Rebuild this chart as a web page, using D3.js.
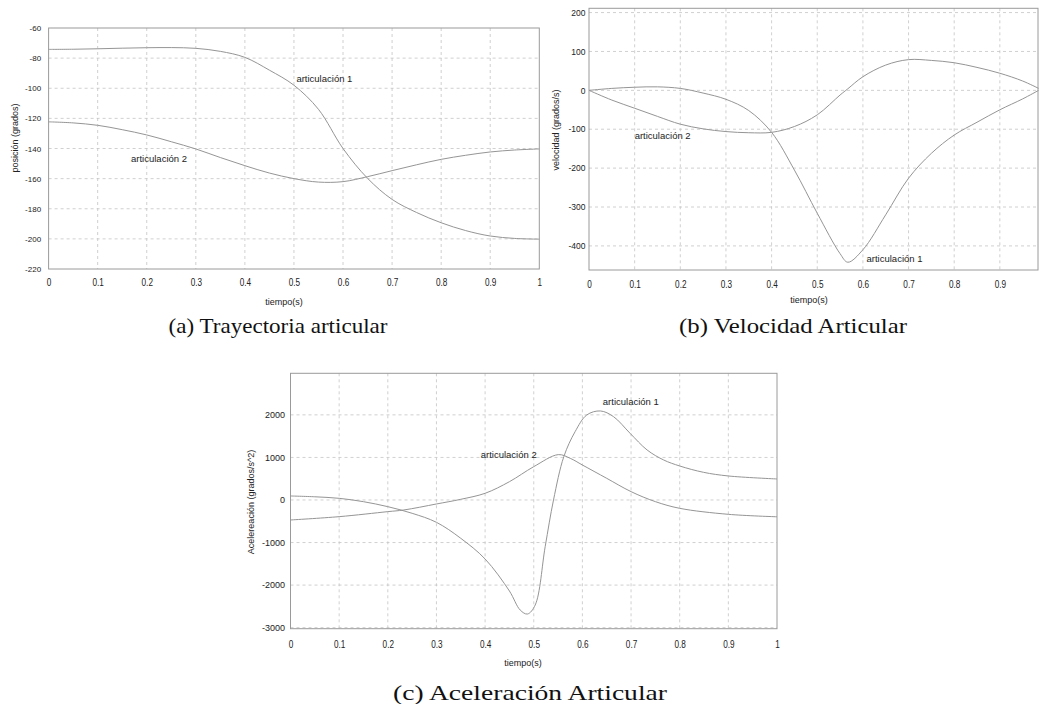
<!DOCTYPE html>
<html><head><meta charset="utf-8">
<script src="https://cdn.jsdelivr.net/npm/d3@7"></script>
<style>
html,body{margin:0;padding:0;background:#fff;}
svg{display:block;}
</style></head>
<body>
<svg id="chart" width="1039" height="704"></svg>
<script>
// ---------- DATA ----------
const timeA = [0,0.05,0.1,0.15,0.2,0.25,0.3,0.35,0.4,0.45,0.5,0.55,0.6,0.65,0.7,0.75,0.8,0.85,0.9,0.95,1.0];
const posJoint1 = [-74.2,-74.1,-73.8,-73.4,-73.1,-73.0,-73.5,-75.5,-79.5,-88,-98,-114,-140,-159.8,-173.8,-182.5,-189.3,-194.5,-198.1,-199.7,-200.2];
const posJoint2 = [-122.3,-123,-124.6,-127.5,-131,-135.5,-140.3,-146,-151.4,-156.3,-160,-162.3,-162,-158.7,-154.7,-150.8,-147.2,-144.5,-142.3,-141,-140.3];

const timeB = [0,0.05,0.1,0.15,0.2,0.25,0.3,0.35,0.4,0.45,0.5,0.55,0.567,0.6,0.65,0.7,0.75,0.8,0.85,0.9,0.95,0.985];
const velJoint1 = [0,5,8,9,5,-7,-23,-52,-108,-205,-316,-420,-442,-410,-320,-226,-162,-115,-82,-50,-22,0];
const velJoint2 = [0,-25,-46,-67,-87,-99,-106,-109,-108,-93,-63,-12,4,35,65,79,77,71,59,44,24,5];

const timeC1 = [0,0.05,0.1,0.15,0.2,0.25,0.3,0.35,0.4,0.45,0.472,0.487,0.503,0.5235,0.5406,0.5618,0.585,0.609,0.637,0.664,0.698,0.733,0.767,0.8,0.849,0.9,1.0];
const accJoint1 = [94,75,39,-40,-157,-313,-525,-901,-1387,-2139,-2585,-2680,-2468,-1097,0,1018,1605,1998,2092,1958,1567,1175,940,799,650,564,494];
const timeC2 = [0,0.1,0.2,0.233,0.3,0.35,0.4,0.45,0.5,0.5505,0.575,0.6,0.65,0.7,0.75,0.8,0.9,1.0];
const accJoint2 = [-470,-392,-274,-235,-94,16,157,430,783,1066,979,822,509,196,-39,-196,-337,-395];

const xTicksFull = [0,0.1,0.2,0.3,0.4,0.5,0.6,0.7,0.8,0.9,1];
const xTicksB = [0,0.1,0.2,0.3,0.4,0.5,0.6,0.7,0.8,0.9];
const yTicksA = [-220,-200,-180,-160,-140,-120,-100,-80,-60];
const yTicksB = [-400,-300,-200,-100,0,100,200];
const yTicksC = [-3000,-2000,-1000,0,1000,2000];

const seriesLabels = ["articulación 1","articulación 2"];
const xTitle = "tiempo(s)";
const yTitles = ["posición (grados)","velocidad (grados/s)","Acelereación (grados/s^2)"];
const captions = ["(a) Trayectoria articular","(b) Velocidad Articular","(c) Aceleración Articular"];

// ---------- DRAW ----------
const svg = d3.select("#chart");
const fmt = d => (d === 0 ? "0" : d === 1 ? "1" : String(d));

function panel(cfg){
  const g = svg.append("g");
  const x = d3.scaleLinear().domain(cfg.xDomain).range([cfg.left, cfg.right]);
  const y = d3.scaleLinear().domain(cfg.yDomain).range([cfg.bottom, cfg.top]);

  // grid
  g.append("g").selectAll("line").data(cfg.xTicks.filter(d => d > cfg.xDomain[0] && d < cfg.xDomain[1]))
    .join("line").attr("x1", d => x(d)).attr("x2", d => x(d))
    .attr("y1", cfg.top).attr("y2", cfg.bottom)
    .attr("stroke", "#c4c4c4").attr("stroke-width", 0.8).attr("stroke-dasharray", "3,3");
  g.append("g").selectAll("line").data(cfg.yTicks.filter(d => d > cfg.yDomain[0] && d < cfg.yDomain[1]))
    .join("line").attr("y1", d => y(d)).attr("y2", d => y(d))
    .attr("x1", cfg.left).attr("x2", cfg.right)
    .attr("stroke", "#c4c4c4").attr("stroke-width", 0.8).attr("stroke-dasharray", "3,3");

  // frame
  g.append("rect").attr("x", cfg.left).attr("y", cfg.top)
    .attr("width", cfg.right - cfg.left).attr("height", cfg.bottom - cfg.top)
    .attr("fill", "none").attr("stroke", "#9a9a9a").attr("stroke-width", 1);

  // axes (labels only)
  const ax = g.append("g").attr("transform", `translate(0,${cfg.bottom})`)
    .call(d3.axisBottom(x).tickValues(cfg.xTicks).tickFormat(fmt).tickSize(0).tickPadding(cfg.xPad));
  ax.select(".domain").remove();
  ax.selectAll("text").attr("font-family", "'Liberation Sans',Arial,sans-serif")
    .attr("font-size", cfg.xFont).attr("fill", "#222").attr("transform", "scale(0.78,1)");
  const ay = g.append("g").attr("transform", `translate(${cfg.left},0)`)
    .call(d3.axisLeft(y).tickValues(cfg.yTicks).tickFormat(d => String(d)).tickSize(0).tickPadding(cfg.yPad));
  ay.select(".domain").remove();
  ay.selectAll("text").attr("font-family", "'Liberation Sans',Arial,sans-serif")
    .attr("font-size", cfg.yFont).attr("fill", "#222");

  // curves
  const line = d3.line().x(d => x(d[0])).y(d => y(d[1])).curve(d3.curveCatmullRom.alpha(0.5));
  cfg.series.forEach(s => {
    g.append("path").datum(d3.zip(s.t, s.v)).attr("d", line)
      .attr("fill", "none").attr("stroke", "#959595").attr("stroke-width", 1);
  });
  cfg.labels.forEach(l => {
    g.append("text").attr("x", x(l.t)).attr("y", y(l.v)).text(l.text)
      .attr("font-family", "'Liberation Sans',Arial,sans-serif").attr("font-size", 9.5).attr("fill", "#222");
  });

  // titles
  g.append("text").attr("x", cfg.xTitleX).attr("y", cfg.xTitleY).attr("text-anchor", "middle")
    .attr("font-family", "'Liberation Sans',Arial,sans-serif").attr("font-size", 9).attr("fill", "#222").text(xTitle);
  g.append("text").attr("transform", `translate(${cfg.yTitleX},${cfg.yTitleY}) rotate(-90)`).attr("text-anchor", "middle")
    .attr("font-family", "'Liberation Sans',Arial,sans-serif").attr("font-size", 9).attr("fill", "#222").text(cfg.yTitle);
  g.append("text").attr("x", cfg.capX - cfg.capW / 2).attr("y", cfg.capY)
    .attr("textLength", cfg.capW).attr("lengthAdjust", "spacingAndGlyphs")
    .attr("font-family", "'Liberation Serif','Times New Roman',serif").attr("font-size", 22).attr("fill", "#111").text(cfg.caption);
}

panel({
  left: 48.6, right: 539.3, top: 28, bottom: 269,
  xDomain: [0, 1], yDomain: [-220, -60],
  xTicks: xTicksFull, yTicks: yTicksA, xPad: 10, yPad: 7.5, xFont: 10.5, yFont: 8,
  series: [{t: timeA, v: posJoint1}, {t: timeA, v: posJoint2}],
  labels: [{t: 0.505, v: -96, text: seriesLabels[0]}, {t: 0.168, v: -149, text: seriesLabels[1]}],
  xTitleX: 284, xTitleY: 305, yTitleX: 18, yTitleY: 138, yTitle: yTitles[0],
  capX: 278, capY: 333, capW: 219, caption: captions[0]
});

panel({
  left: 589, right: 1038, top: 8.3, bottom: 270,
  xDomain: [0, 0.9836], yDomain: [-462, 211],
  xTicks: xTicksB, yTicks: yTicksB, xPad: 11, yPad: 3.5, xFont: 10.5, yFont: 8.5,
  series: [{t: timeB, v: velJoint1}, {t: timeB, v: velJoint2}],
  labels: [{t: 0.608, v: -441, text: seriesLabels[0]}, {t: 0.1, v: -124, text: seriesLabels[1]}],
  xTitleX: 809, xTitleY: 303, yTitleX: 559, yTitleY: 130, yTitle: yTitles[1],
  capX: 793, capY: 333, capW: 228, caption: captions[1]
});

panel({
  left: 290.5, right: 777, top: 373.3, bottom: 628.7,
  xDomain: [0, 1], yDomain: [-3025, 2977],
  xTicks: xTicksFull, yTicks: yTicksC, xPad: 12, yPad: 5.5, xFont: 10.5, yFont: 9,
  series: [{t: timeC1, v: accJoint1}, {t: timeC2, v: accJoint2}],
  labels: [{t: 0.642, v: 2221, text: seriesLabels[0]}, {t: 0.391, v: 987, text: seriesLabels[1]}],
  xTitleX: 523, xTitleY: 666, yTitleX: 254, yTitleY: 502, yTitle: yTitles[2],
  capX: 530, capY: 700, capW: 274, caption: captions[2]
});
</script>
</body></html>
